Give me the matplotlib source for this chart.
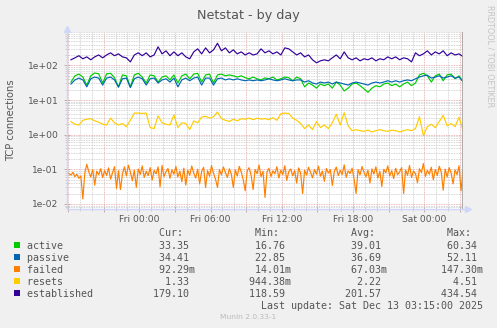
import matplotlib
matplotlib.use("Agg")
import matplotlib.pyplot as plt
import matplotlib.dates as mdates
from matplotlib.ticker import LogLocator, FuncFormatter, NullFormatter
from matplotlib.patches import Rectangle
from datetime import datetime, timedelta

# Netstat plugin, day view: 2000 minutes ending at the last update
END = datetime(2025, 12, 13, 3, 15)
START = END - timedelta(minutes=2000)

# 20 minute averages
active = [33, 50, 56, 46, 27, 50, 60.34, 57, 31, 57,
          59, 44, 24, 53, 50, 24, 53, 59, 46, 31,
          53, 50, 33, 46, 50, 38, 53, 31, 50, 56,
          41, 56, 59, 33, 53, 56, 31, 53, 56, 50,
          53, 50, 46, 50, 44, 41, 46, 41, 38, 43.5,
          41, 46, 38, 41, 46, 44, 36, 46, 41, 24,
          31, 27, 22, 29, 26, 29, 22, 33, 27, 18.3,
          22, 29, 31, 26, 21, 16.76, 22, 26, 24, 29,
          31, 26, 29, 24, 29, 33, 26, 31, 53, 59,
          50, 33, 50, 56, 36, 53, 56, 41, 50, 33.35]

passive = [29, 38, 43, 38, 24, 41, 46, 43, 27, 43,
           46, 38, 23.5, 41, 43, 22.85, 41, 46, 41, 27,
           41, 43, 31, 38, 41, 33, 43, 24, 38, 43,
           36, 43, 46, 27, 43, 43, 27, 41, 43, 38,
           41, 38, 41, 38, 36, 38, 36, 38, 36, 38,
           41, 38, 36, 38, 41, 38, 36, 38, 38, 33,
           36, 31, 29, 33, 31, 33, 29, 33, 31, 29,
           27, 31, 33, 31, 29, 27, 31, 33, 31, 33,
           36, 33, 36, 33, 36, 38, 36, 41, 46, 50,
           52.11, 43, 46, 50, 43, 46, 50, 43, 46, 34.41]

resets = [2.4, 2.0, 1.9, 2.6, 2.8, 2.9, 2.5, 2.3, 2.0, 1.9,
          3.0, 2.2, 1.9, 2.1, 1.7, 2.6, 4.2, 4.2, 4.1, 4.2,
          1.6, 1.5, 3.5, 2.2, 2.0, 1.9, 3.7, 1.6, 2.2, 2.1,
          1.4, 2.5, 2.2, 3.2, 3.4, 3.0, 3.3, 4.51, 2.9, 2.6,
          2.4, 2.8, 2.5, 2.9, 2.8, 3.0, 2.7, 3.0, 2.8, 2.9,
          2.7, 3.1, 2.6, 4.0, 4.2, 4.1, 3.0, 2.6, 2.1, 1.5,
          1.9, 1.4, 2.4, 1.6, 1.9, 1.5, 2.2, 3.9, 1.9, 4.3,
          1.8, 1.3, 1.4, 1.3, 1.25, 1.35, 1.2, 1.3, 1.4, 1.3,
          1.25, 1.35, 1.3, 1.2, 1.3, 1.4, 1.3, 1.5, 3.3, 0.94438,
          1.7, 2.0, 1.6, 2.4, 3.6, 1.8, 2.1, 1.7, 3.2, 1.33]

established = [145, 165, 190, 155, 176, 145, 176, 200, 165, 200,
               230, 190, 215, 176, 165, 126, 200, 230, 190, 230,
               176, 200, 343, 215, 263, 190, 245, 190, 230, 176,
               155, 245, 300, 215, 320, 230, 280, 434.54, 263, 320,
               230, 280, 215, 245, 200, 230, 200, 215, 300, 230,
               263, 215, 245, 200, 320, 300, 245, 200, 230, 176,
               200, 145, 118.59, 135, 145, 135, 165, 200, 155, 245,
               165, 145, 165, 135, 155, 145, 165, 135, 155, 145,
               176, 155, 176, 145, 165, 155, 126, 230, 190, 215,
               263, 200, 245, 215, 263, 190, 230, 200, 215, 179.10]

# 10 minute averages
failed = [0.075, 0.068, 0.082, 0.061, 0.072, 0.055, 0.064, 0.01401, 0.078, 0.140,
          0.085, 0.060, 0.098, 0.035, 0.088, 0.070, 0.104, 0.058, 0.092, 0.066,
          0.110, 0.052, 0.079, 0.120, 0.028, 0.091, 0.026, 0.073, 0.118, 0.064,
          0.132, 0.083, 0.047, 0.095, 0.030, 0.102, 0.071, 0.126, 0.058, 0.088,
          0.066, 0.112, 0.049, 0.093, 0.074, 0.118, 0.031, 0.130, 0.062, 0.086,
          0.106, 0.055, 0.097, 0.072, 0.121, 0.060, 0.089, 0.044, 0.108, 0.035,
          0.094, 0.067, 0.125, 0.078, 0.056, 0.101, 0.038, 0.087, 0.115, 0.030,
          0.092, 0.063, 0.128, 0.076, 0.052, 0.030, 0.099, 0.069, 0.117, 0.081,
          0.058, 0.104, 0.072, 0.030, 0.096, 0.064, 0.122, 0.083, 0.050, 0.024,
          0.090, 0.112, 0.067, 0.026, 0.098, 0.075, 0.133, 0.061, 0.088, 0.0155,
          0.084, 0.107, 0.062, 0.091, 0.074, 0.119, 0.056, 0.095, 0.070, 0.128,
          0.048, 0.086, 0.102, 0.065, 0.092, 0.040, 0.110, 0.077, 0.020, 0.094,
          0.068, 0.115, 0.081, 0.057, 0.099, 0.072, 0.124, 0.063, 0.089, 0.045,
          0.106, 0.078, 0.097, 0.034, 0.087, 0.116, 0.066, 0.093, 0.071, 0.135,
          0.059, 0.090, 0.076, 0.108, 0.052, 0.020, 0.098, 0.069, 0.121, 0.082,
          0.061, 0.094, 0.040, 0.103, 0.073, 0.118, 0.056, 0.088, 0.032, 0.100,
          0.079, 0.126, 0.064, 0.091, 0.054, 0.107, 0.070, 0.085, 0.112, 0.020,
          0.095, 0.067, 0.130, 0.058, 0.089, 0.075, 0.041, 0.104, 0.081, 0.1473,
          0.062, 0.093, 0.072, 0.115, 0.050, 0.098, 0.066, 0.123, 0.084, 0.025,
          0.101, 0.060, 0.112, 0.078, 0.038, 0.096, 0.070, 0.127, 0.024, 0.09229]

names = ['active', 'passive', 'failed', 'resets', 'established']
colors = ['#00CC00', '#0066B3', '#FF8000', '#FFCC00', '#330099']
cur_vals = [33.35, 34.41, 0.09229, 1.33, 179.10]
min_vals = [16.76, 22.85, 0.01401, 0.94438, 118.59]
avg_vals = [39.01, 36.69, 0.06703, 2.22, 201.57]
max_vals = [60.34, 52.11, 0.1473, 4.51, 434.54]


def times_for(values):
    step = 2000 // len(values)
    n = len(values)
    return [END - timedelta(minutes=step * (n - 1 - k)) for k in range(n)]


def si(v):
    if v < 1:
        return f"{v * 1000:6.2f}m"
    return f"{v:6.2f} "


W, H = 497, 328
TEXT = '#555555'
AXIS = '#CFD6F8'

fig = plt.figure(figsize=(W / 100, H / 100), dpi=100, facecolor='#F0F0F0')
ax = fig.add_axes([67 / W, 1 - 208.5 / H, 396 / W, 177 / H])
ax.set_facecolor('white')

series = [active, passive, failed, resets, established]
for vals, col in zip(series, colors):
    ax.plot(times_for(vals), vals, color=col, lw=0.85)

ax.set_yscale('log')
ax.set_ylim(0.0074, 950)
ax.set_xlim(START, END)

ax.yaxis.set_major_locator(LogLocator(base=10))
ax.yaxis.set_minor_locator(LogLocator(base=10, subs=range(2, 10)))
ax.yaxis.set_major_formatter(FuncFormatter(lambda v, p: f"{v:.0e}"))
ax.yaxis.set_minor_formatter(NullFormatter())

ax.xaxis.set_major_locator(mdates.HourLocator(byhour=range(0, 24, 3)))
ax.xaxis.set_minor_locator(mdates.HourLocator())


def hour_label(x, pos):
    # label every 6 hours, but not a tick squeezed against the left edge
    d = mdates.num2date(x).replace(tzinfo=None)
    if d.hour % 6 or d < START + timedelta(hours=2):
        return ''
    return d.strftime('%a %H:%M')


ax.xaxis.set_major_formatter(FuncFormatter(hour_label))

ax.set_axisbelow(True)
ax.grid(which='minor', color='#C8C8C8', ls=(0, (1, 1)), lw=0.6)
ax.grid(which='major', color='#E6A0A0', ls=(0, (1, 1)), lw=0.6)

ax.tick_params(which='major', direction='inout', length=4, width=0.6,
               color='#C0A0A0', labelcolor=TEXT, labelsize=6.6)
ax.tick_params(which='minor', direction='inout', length=3, width=0.5, color='#C0C0C0')
ax.tick_params(axis='y', pad=4)
ax.tick_params(axis='x', pad=3)

for side in ('top', 'right'):
    ax.spines[side].set_visible(False)
for side in ('left', 'bottom'):
    ax.spines[side].set_color(AXIS)
    ax.spines[side].set_linewidth(1)

# axis arrows
ax.plot([0, 0], [1, 1 + 3 / 177], color=AXIS, lw=1, transform=ax.transAxes, clip_on=False)
ax.plot(0, 1 + 3 / 177, marker='^', ms=4, color=AXIS, transform=ax.transAxes, clip_on=False)
ax.plot([1, 1 + 5 / 396], [0, 0], color=AXIS, lw=1, transform=ax.transAxes, clip_on=False)
ax.plot(1 + 5 / 396, 0, marker='>', ms=4, color=AXIS, transform=ax.transAxes, clip_on=False)
ax.axvline(END, color='#A0A0A0', lw=1.2)

fig.text(248.5 / W, 1 - 19 / H, 'Netstat - by day', ha='center', va='baseline',
         fontsize=9.2, color=TEXT)
fig.text(11 / W, 1 - 120 / H, 'TCP connections', rotation=90, ha='center', va='center',
         fontsize=7.2, color=TEXT)
fig.text(490 / W, 1 - 56.5 / H, 'RRDTOOL / TOBI OETIKER', rotation=270, ha='center',
         va='center', fontsize=5.8, color='#C4C4C4')

# legend table
mono = dict(family='DejaVu Sans Mono', fontsize=7.2, color=TEXT, va='baseline', ha='left')
x0 = 27 / W
header = ' ' * 22 + 'Cur:' + ' ' * 12 + 'Min:' + ' ' * 12 + 'Avg:' + ' ' * 12 + 'Max:'
fig.text(x0, 1 - 236 / H, header, **mono)
for k, name in enumerate(names):
    base = 249 + 12 * k
    row = f"{name:<21}" + ''.join(si(v) + ' ' * 9 for v in
                                  (cur_vals[k], min_vals[k], avg_vals[k], max_vals[k]))
    fig.text(x0, 1 - base / H, row.rstrip(), **mono)
    fig.patches.append(Rectangle((14 / W, 1 - (base - 1) / H), 6 / W, 6 / H,
                                 transform=fig.transFigure, facecolor=colors[k],
                                 edgecolor='none'))
mono_r = dict(mono, ha='right')
fig.text(483 / W, 1 - 309 / H, 'Last update: Sat Dec 13 03:15:00 2025', **mono_r)
fig.text(248 / W, 1 - 319 / H, 'Munin 2.0.33-1', ha='center', va='baseline',
         fontsize=5.4, color='#BBBBBB')

fig.savefig('out.png', dpi=100, facecolor=fig.get_facecolor())
